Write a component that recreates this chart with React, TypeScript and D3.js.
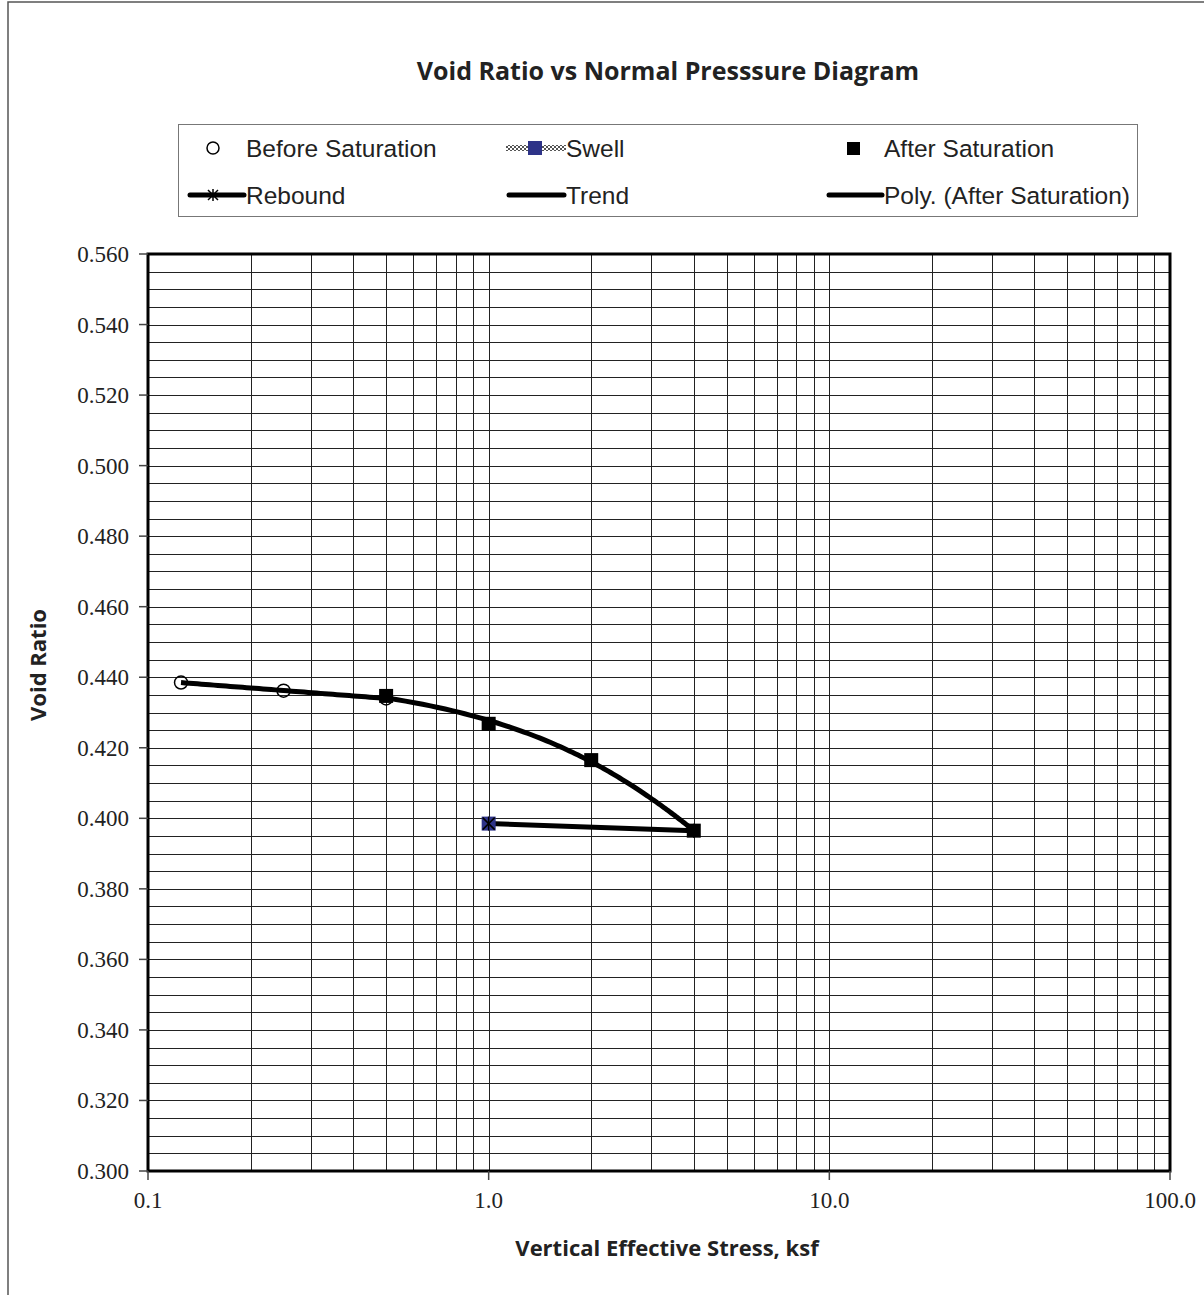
import React from "react";
import * as d3 from "d3";

const beforeX = [0.125, 0.25, 0.5];
const beforeY = [0.4385, 0.4362, 0.434];
const afterX = [0.5, 1.0, 2.0, 4.0];
const afterY = [0.4347, 0.4268, 0.4165, 0.3965];
const swellX = [1.0];
const swellY = [0.3985];
const reboundX = [4.0, 1.0];
const reboundY = [0.3965, 0.3985];
const yTicks = [0.3, 0.32, 0.34, 0.36, 0.38, 0.4, 0.42, 0.44, 0.46, 0.48, 0.5, 0.52, 0.54, 0.56];
const xTicks = [0.1, 1, 10, 100];
const xTickLabels = ["0.1", "1.0", "10.0", "100.0"];

const W = 1204, H = 1295;
const L = 148, R = 1170, T = 254, B = 1171;

function polyFit(xs: number[], ys: number[]) {
  const n = xs.length;
  let s0 = n, s1 = 0, s2 = 0, s3 = 0, s4 = 0, t0 = 0, t1 = 0, t2 = 0;
  for (let i = 0; i < n; i++) {
    const x = xs[i], y = ys[i];
    s1 += x; s2 += x * x; s3 += x ** 3; s4 += x ** 4;
    t0 += y; t1 += x * y; t2 += x * x * y;
  }
  const A = [[s0, s1, s2, t0], [s1, s2, s3, t1], [s2, s3, s4, t2]];
  for (let i = 0; i < 3; i++) {
    for (let j = i + 1; j < 3; j++) {
      const f = A[j][i] / A[i][i];
      for (let k = i; k < 4; k++) A[j][k] -= f * A[i][k];
    }
  }
  const c = [0, 0, 0];
  for (let i = 2; i >= 0; i--) {
    let s = A[i][3];
    for (let k = i + 1; k < 3; k++) s -= A[i][k] * c[k];
    c[i] = s / A[i][i];
  }
  return (x: number) => c[0] + c[1] * x + c[2] * x * x;
}

function logFit(xs: number[], ys: number[]) {
  const lx = xs.map(Math.log);
  const mx = d3.mean(lx)!, my = d3.mean(ys)!;
  let num = 0, den = 0;
  for (let i = 0; i < xs.length; i++) {
    num += (lx[i] - mx) * (ys[i] - my);
    den += (lx[i] - mx) ** 2;
  }
  const b = num / den, a = my - b * mx;
  return (x: number) => a + b * Math.log(x);
}

export default function App() {
  const x = d3.scaleLog().domain([0.1, 100]).range([L, R]);
  const y = d3.scaleLinear().domain([0.3, 0.56]).range([B, T]);

  const vGrid: number[] = [];
  for (let d = 0.1; d < 100; d *= 10) {
    for (let k = 1; k <= 9; k++) vGrid.push(d * k);
  }
  const hGrid: number[] = [];
  for (let i = 0; i <= 52; i++) hGrid.push(0.3 + i * 0.005);

  const poly = polyFit(afterX, afterY);
  const trend = logFit(beforeX, beforeY);
  const polyPts = d3.range(0, 101).map((i) => {
    const xv = afterX[0] + (afterX[afterX.length - 1] - afterX[0]) * (i / 100);
    return [x(xv), y(poly(xv))] as [number, number];
  });
  const trendPts = d3.range(0, 51).map((i) => {
    const xv = Math.exp(Math.log(beforeX[0]) + (Math.log(beforeX[beforeX.length - 1]) - Math.log(beforeX[0])) * (i / 50));
    return [x(xv), y(trend(xv))] as [number, number];
  });
  const line = d3.line();
  const rebound = d3.line()(reboundX.map((v, i) => [x(v), y(reboundY[i])] as [number, number]));

  const asterisk = (cx: number, cy: number, s: number, key: string) => (
    <g key={key} stroke="#000" strokeWidth={1.5}>
      <line x1={cx - s} y1={cy - s} x2={cx + s} y2={cy + s} />
      <line x1={cx - s} y1={cy + s} x2={cx + s} y2={cy - s} />
      <line x1={cx} y1={cy - s - 1} x2={cx} y2={cy + s + 1} />
    </g>
  );

  const serif = "'Liberation Serif', 'Times New Roman', serif";
  const sans = "'Liberation Sans', Arial, sans-serif";
  const bold = "'Open Sans', 'Noto Sans', sans-serif";

  return (
    <svg width={W} height={H} style={{ position: "absolute", left: 0, top: 0, background: "#fff" }}>
      <defs>
        <pattern id="chk" width="4" height="4" patternUnits="userSpaceOnUse">
          <rect width="4" height="4" fill="#fff" />
          <rect width="2" height="2" fill="#555" />
          <rect x="2" y="2" width="2" height="2" fill="#555" />
        </pattern>
      </defs>
      <rect x={0} y={0} width={W} height={H} fill="#fff" />
      <rect x={8} y={2} width={W + 10} height={H + 10} fill="none" stroke="#555" strokeWidth={1.5} />
      <text x={668} y={80} textAnchor="middle" fontFamily={bold} fontWeight={700} fontSize={25} fill="#222">
        Void Ratio vs Normal Presssure Diagram
      </text>

      {/* legend */}
      <rect x={178.5} y={124.5} width={959} height={92} fill="#fff" stroke="#777" strokeWidth={1} />
      <g fontFamily={sans} fontSize={24.5} fill="#222">
        <circle cx={213} cy={148} r={6} fill="#fff" stroke="#000" strokeWidth={1.5} />
        <text x={246} y={157}>Before Saturation</text>
        <rect x={506} y={145} width={60} height={6} fill="url(#chk)" />
        <rect x={528} y={141} width={14} height={14} fill="#2e3388" />
        <text x={566} y={157}>Swell</text>
        <rect x={847} y={142} width={13} height={13} fill="#000" />
        <text x={884} y={157}>After Saturation</text>

        <line x1={190} y1={195} x2={244} y2={195} stroke="#000" strokeWidth={5} strokeLinecap="round" />
        {asterisk(213, 195, 5, "la")}
        <text x={246} y={204}>Rebound</text>
        <line x1={509} y1={195} x2={564} y2={195} stroke="#000" strokeWidth={5} strokeLinecap="round" />
        <text x={566} y={204}>Trend</text>
        <line x1={829} y1={195} x2={882} y2={195} stroke="#000" strokeWidth={5} strokeLinecap="round" />
        <text x={884} y={204}>Poly. (After Saturation)</text>
      </g>

      {/* grid */}
      <g stroke="#222" strokeWidth={1}>
        {hGrid.map((v, i) => (
          <line key={"h" + i} x1={L} x2={R} y1={Math.round(y(v)) + 0.5} y2={Math.round(y(v)) + 0.5} />
        ))}
        {vGrid.map((v, i) => (
          <line key={"v" + i} x1={Math.round(x(v)) + 0.5} x2={Math.round(x(v)) + 0.5} y1={T} y2={B} />
        ))}
      </g>
      <rect x={L} y={T} width={R - L} height={B - T} fill="none" stroke="#000" strokeWidth={3} />

      {/* ticks */}
      <g stroke="#444" strokeWidth={1.5}>
        {yTicks.map((v, i) => (
          <line key={"yt" + i} x1={L - 9} x2={L} y1={y(v)} y2={y(v)} />
        ))}
        {xTicks.map((v, i) => (
          <line key={"xt" + i} x1={x(v)} x2={x(v)} y1={B} y2={B + 9} />
        ))}
      </g>
      <g fontFamily={serif} fontSize={23} fill="#222">
        {yTicks.map((v, i) => (
          <text key={"yl" + i} x={129} y={y(v) + 8} textAnchor="end">
            {v.toFixed(3)}
          </text>
        ))}
        {xTicks.map((v, i) => (
          <text key={"xl" + i} x={x(v)} y={1208} textAnchor="middle">
            {xTickLabels[i]}
          </text>
        ))}
      </g>
      <text x={667} y={1256} textAnchor="middle" fontFamily={bold} fontWeight={700} fontSize={22} fill="#222">
        Vertical Effective Stress, ksf
      </text>
      <text transform="translate(46,665) rotate(-90)" textAnchor="middle" fontFamily={bold} fontWeight={700} fontSize={22} fill="#222">
        Void Ratio
      </text>

      {/* data */}
      <path d={line(trendPts)!} fill="none" stroke="#000" strokeWidth={5} />
      <path d={line(polyPts)!} fill="none" stroke="#000" strokeWidth={5} />
      <path d={rebound!} fill="none" stroke="#000" strokeWidth={5} />
      {beforeX.map((v, i) => (
        <circle key={"b" + i} cx={x(v)} cy={y(beforeY[i])} r={6.5} fill="none" stroke="#000" strokeWidth={1.5} />
      ))}
      {afterX.map((v, i) => (
        <rect key={"a" + i} x={x(v) - 7} y={y(afterY[i]) - 7} width={14} height={14} fill="#000" />
      ))}
      {swellX.map((v, i) => (
        <rect key={"s" + i} x={x(v) - 7} y={y(swellY[i]) - 7} width={14} height={14} fill="#2e3388" />
      ))}
      {reboundX.map((v, i) => asterisk(x(v), y(reboundY[i]), 6, "r" + i))}
    </svg>
  );
}
